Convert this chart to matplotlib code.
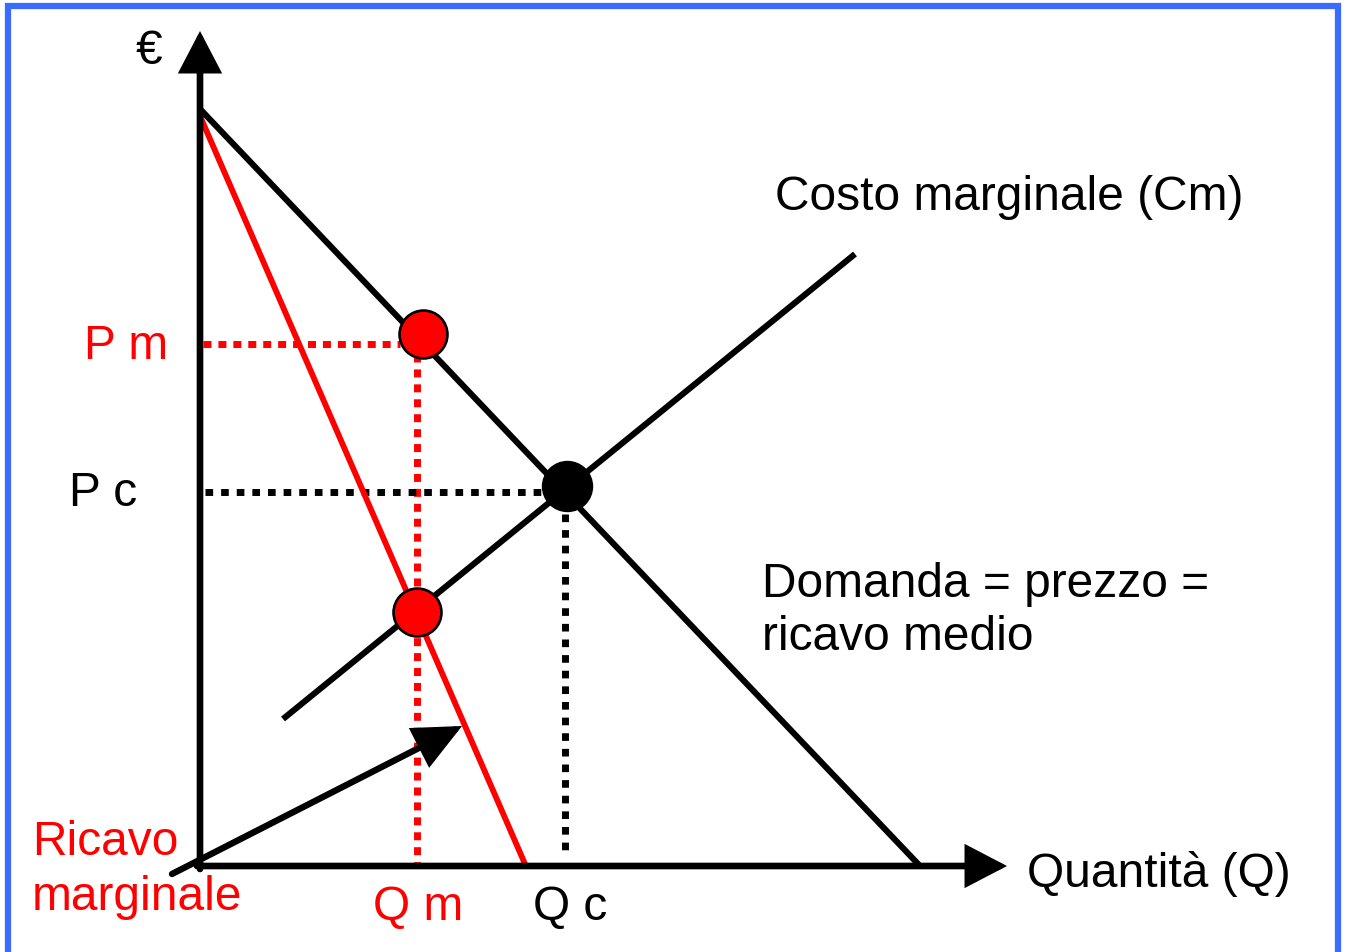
"""Monopoly vs perfect competition diagram (domanda, ricavo marginale, costo marginale)."""

import matplotlib
matplotlib.use("Agg")
import matplotlib.pyplot as plt  # noqa: E402
from matplotlib.patches import Rectangle  # noqa: E402

RED = "#ff0000"
BLACK = "#000000"
BORDER = "#3a6cff"
FONT_SIZE = 34.5

# Curves (Q, P) in chart units
demand_q = [0.0, 7.20]
demand_p = [7.57, 0.0]
mr_q = [0.0, 3.25]
mr_p = [7.50, 0.02]
mc_q = [0.83, 6.55]
mc_p = [1.47, 6.12]

# Equilibrium points
monopoly_pt = (2.23, 5.32)
competition_pt = (3.67, 3.80)
mr_mc_pt = (2.17, 2.54)

# Guide levels
p_m = 5.22
q_m = 2.17
p_c = 3.74
q_c = 3.65

# Axis extents and pointer arrow
q_axis_end = 8.07
p_axis_end = 8.35
pointer_start = (-0.28, -0.08)
pointer_end = (2.62, 1.40)

plt.rcParams["font.family"] = ["Liberation Sans", "DejaVu Sans"]

fig = plt.figure(figsize=(13.46, 9.53), dpi=100)
fig.patch.set_facecolor("white")
ax = fig.add_axes([0, 0, 1, 1])
ax.set_xlim(-2.00, 11.46)
ax.set_ylim(-0.86, 8.67)
ax.axis("off")

# Blue frame (open at the bottom)
fig.patches.append(Rectangle((8 / 1346, -0.02), 1330 / 1346, 1.02 - 7 / 953,
                             transform=fig.transFigure, fill=False,
                             edgecolor=BORDER, linewidth=4.5))

# Axes with arrow heads
axis_arrow = dict(arrowstyle="-|>,head_length=2.3,head_width=1.2",
                  mutation_scale=10, lw=4.8, color=BLACK,
                  shrinkA=0, shrinkB=0, joinstyle="miter")
ax.annotate("", xy=(0, p_axis_end), xytext=(0, -0.03), arrowprops=axis_arrow)
ax.annotate("", xy=(q_axis_end, 0), xytext=(-0.03, 0), arrowprops=axis_arrow)

# Guide lines
red_dots = dict(color=RED, lw=5, linestyle=(0, (1.15, 1.0)))
black_dots = dict(color=BLACK, lw=5, linestyle=(0, (1.1, 1.15)))
ax.plot([0.03, q_m - 0.17], [p_m, p_m], **red_dots)
ax.plot([q_m, q_m], [p_m - 0.1, 0.02], **red_dots)
ax.plot([0.05, q_c - 0.22], [p_c, p_c], **black_dots)
ax.plot([q_c, q_c], [p_c - 0.22, 0.12], **black_dots)

# Curves
ax.plot(demand_q, demand_p, color=BLACK, lw=4.4, solid_capstyle="butt")
ax.plot(mr_q, mr_p, color=RED, lw=4.2, solid_capstyle="butt")
ax.plot(mc_q, mc_p, color=BLACK, lw=4.4, solid_capstyle="butt")

# Pointer to marginal revenue
ax.annotate("", xy=pointer_end, xytext=pointer_start, annotation_clip=False,
            arrowprops=dict(arrowstyle="-|>,head_length=2.7,head_width=1.25",
                            mutation_scale=10, lw=4.6, color=BLACK,
                            shrinkA=0, shrinkB=0, joinstyle="miter"))

# Points
ax.plot(*monopoly_pt, "o", ms=34.5, mfc=RED, mec=BLACK, mew=1.9, zorder=5)
ax.plot(*mr_mc_pt, "o", ms=34.5, mfc=RED, mec=BLACK, mew=1.9, zorder=5)
ax.plot(*competition_pt, "o", ms=36, mfc=BLACK, mec=BLACK, mew=1.0, zorder=5)

# Labels
ax.text(-0.51, 8.15, "€", fontsize=FONT_SIZE, ha="center", va="center")
ax.text(-0.32, 5.08, "P m", fontsize=FONT_SIZE, color=RED, ha="right", va="baseline")
ax.text(-0.63, 3.61, "P c", fontsize=FONT_SIZE, ha="right", va="baseline")
ax.text(5.75, 6.57, "Costo marginale (Cm)", fontsize=FONT_SIZE, va="baseline")
ax.text(5.62, 2.70, "Domanda = prezzo =", fontsize=FONT_SIZE, va="baseline")
ax.text(5.62, 2.17, "ricavo medio", fontsize=FONT_SIZE, va="baseline")
ax.text(-1.68, 0.12, "Ricavo", fontsize=FONT_SIZE, color=RED, va="baseline")
ax.text(-1.68, -0.43, "marginale", fontsize=FONT_SIZE, color=RED, va="baseline")
ax.text(q_m + 0.01, -0.53, "Q m", fontsize=FONT_SIZE, color=RED, ha="center", va="baseline")
ax.text(q_c + 0.05, -0.53, "Q c", fontsize=FONT_SIZE, ha="center", va="baseline")
ax.text(8.27, -0.20, "Quantità (Q)", fontsize=FONT_SIZE, va="baseline")

fig.savefig("out.png", dpi=100, facecolor="white")
plt.close(fig)
